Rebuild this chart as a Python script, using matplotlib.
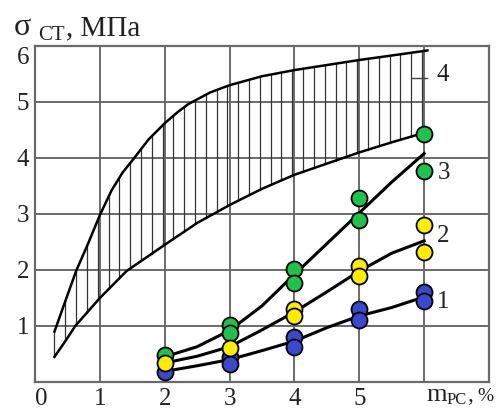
import numpy as np
import matplotlib
matplotlib.use("Agg")
import matplotlib.pyplot as plt
import matplotlib.transforms as mtransforms

plt.rcParams['font.family'] = ['Liberation Serif', 'DejaVu Serif']

# Band 4: upper and lower bounding curves
upper_x = [0.3, 0.5, 0.64, 0.8, 1.0, 1.18, 1.35, 1.53, 1.75, 2.0, 2.2, 2.36, 2.7, 3.0, 3.5, 4.0, 4.5, 5.0, 5.5, 6.05]
upper_y = [0.9, 1.55, 2.0, 2.42, 2.98, 3.42, 3.74, 4.0, 4.33, 4.62, 4.82, 4.96, 5.17, 5.3, 5.46, 5.57, 5.66, 5.75, 5.83, 5.92]
lower_x = [0.3, 0.48, 0.62, 1.0, 1.41, 2.0, 2.5, 3.0, 3.5, 4.0, 4.5, 5.0, 5.5, 6.0]
lower_y = [0.45, 0.75, 1.0, 1.5, 1.98, 2.45, 2.84, 3.16, 3.45, 3.7, 3.9, 4.1, 4.28, 4.45]

# Fitted curves 1-3
curve_x = [2, 2.5, 3, 3.5, 4, 4.5, 5, 5.5, 6]
curve1_y = [0.19, 0.29, 0.40, 0.56, 0.73, 0.97, 1.18, 1.33, 1.52]
curve2_y = [0.34, 0.46, 0.63, 0.93, 1.25, 1.61, 1.98, 2.30, 2.52]
curve3_y = [0.45, 0.63, 0.92, 1.36, 1.92, 2.47, 3.02, 3.57, 4.08]

# Measured points
blue_x = [2, 3, 3, 4, 4, 5, 5, 6, 6]
blue_y = [0.17, 0.45, 0.32, 0.81, 0.62, 1.30, 1.10, 1.61, 1.45]
green_x = [2, 3, 3, 4, 4, 5, 5, 6, 6]
green_y = [0.48, 1.02, 0.87, 2.02, 1.77, 3.28, 2.90, 4.43, 3.77]
yellow_x = [2, 3, 4, 4, 5, 5, 6, 6]
yellow_y = [0.34, 0.61, 1.30, 1.17, 2.07, 1.90, 2.80, 2.32]

x_ticks = [0, 1, 2, 3, 4, 5]
y_ticks = [1, 2, 3, 4, 5, 6]

W, H = 496, 412
fig = plt.figure(figsize=(W / 100, H / 100), dpi=100)
ax = fig.add_axes([35 / W, 30 / H, 454 / W, 336 / H])
ax.set_xlim(0, 7)
ax.set_ylim(0, 6)

grid_col = '#6a6a6a'
for gx in [1, 2, 3, 4, 5, 6]:
    ax.axvline(gx, color=grid_col, lw=1.4, zorder=1)
for gy in [1, 2, 3, 4, 5]:
    ax.axhline(gy, color=grid_col, lw=1.4, zorder=1)
for s in ax.spines.values():
    s.set_color(grid_col)
    s.set_linewidth(1.6)

# vertical hatching of band 4
for hx in np.arange(0.3, 6.01, 1 / 6):
    top = np.interp(hx, upper_x, upper_y)
    bot = np.interp(hx, lower_x, lower_y)
    ax.plot([hx, hx], [bot, top], color='#333333', lw=0.9, zorder=2)
ax.plot(upper_x, upper_y, color='black', lw=1.8, zorder=3)
ax.plot(lower_x, lower_y, color='black', lw=1.8, zorder=3)
ax.plot([5.82, 6.05], [5.43, 5.43], color='#444444', lw=1, zorder=3)

for cy in [curve1_y, curve2_y, curve3_y]:
    ax.plot(curve_x, cy, color='black', lw=2.2, zorder=4)

mk = dict(marker='o', ms=11.5, mec='black', mew=1.3, ls='none', zorder=5)
ax.plot(blue_x, blue_y, mfc='#3a48d0', **mk)
ax.plot(green_x, green_y, mfc='#1fc24a', **mk)
ax.plot(yellow_x, yellow_y, mfc='#ffec00', **mk)

lab = dict(fontsize=18, ha='center', va='center', color='#222222')
ax.text(6.3, 1.43, '1', **lab)
ax.text(6.3, 2.6, '2', **lab)
ax.text(6.3, 3.73, '3', **lab)
ax.text(6.28, 5.48, '4', **lab)

ax.set_xticks(x_ticks)
ax.set_xticklabels([str(t) for t in x_ticks])
ax.set_yticks(y_ticks)
ax.set_yticklabels([str(t) for t in y_ticks])
ax.tick_params(length=0, labelsize=18, colors='#222222', pad=4)

# the "6" sits a little below the top line, the "0" a little right of the corner
ylabs = ax.get_yticklabels()
ylabs[-1].set_transform(ylabs[-1].get_transform() +
                        mtransforms.ScaledTranslation(0, -10 / 100, fig.dpi_scale_trans))
xlabs = ax.get_xticklabels()
xlabs[0].set_transform(xlabs[0].get_transform() +
                       mtransforms.ScaledTranslation(6 / 100, 0, fig.dpi_scale_trans))

# axis titles
txt = dict(va='baseline', color='#222222')
fig.text(14 / W, 1 - 35 / H, 'σ', fontsize=23, **txt)
fig.text(38 / W, 1 - 40 / H, 'СТ', fontsize=15, **txt)
fig.text(66 / W, 1 - 35 / H, ', МПа', fontsize=21, **txt)
fig.text(426 / W, 1 - 401 / H, 'm', fontsize=19, **txt)
fig.text(447 / W, 1 - 404 / H, 'PC', fontsize=12, **txt)
fig.text(467 / W, 1 - 401 / H, ',', fontsize=17, **txt)
fig.text(477 / W, 1 - 401 / H, '%', fontsize=14, **txt)

fig.savefig('out.png', dpi=100)
